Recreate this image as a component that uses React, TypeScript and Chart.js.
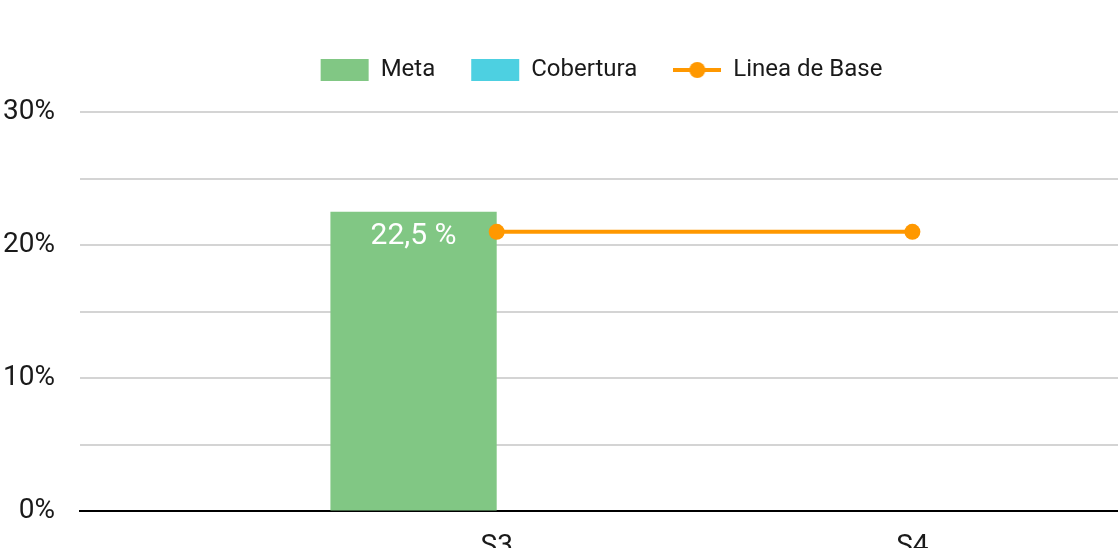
import React, { useEffect, useRef } from 'react';
import { Chart, registerables } from 'chart.js';

Chart.register(...registerables);

// ---- data ----
const categories = ['S3', 'S4'];
const metaValues: (number | null)[] = [22.5, null];
const coberturaValues: (number | null)[] = [null, null];
const lineaBaseValues: (number | null)[] = [21, 21];
const yLabelledTicks = [0, 10, 20, 30];

const seriesNames = ['Meta', 'Cobertura', 'Linea de Base'];
const seriesColors = ['#81C784', '#4DD0E1', '#FF9800'];

// visible window of the category axis (index units)
const X_START = -1.0024;
const X_RANGE = 2.675;

const CANVAS_W = 1200;
const CANVAS_H = 600;

function makeLineIcon(color: string): HTMLCanvasElement {
  const c = document.createElement('canvas');
  c.width = 48;
  c.height = 18;
  const ctx = c.getContext('2d')!;
  ctx.strokeStyle = color;
  ctx.lineWidth = 4;
  ctx.beginPath();
  ctx.moveTo(0, 9);
  ctx.lineTo(48, 9);
  ctx.stroke();
  ctx.fillStyle = color;
  ctx.beginPath();
  ctx.arc(24, 9, 8, 0, Math.PI * 2);
  ctx.fill();
  return c;
}

const barLabelPlugin = {
  id: 'barLabel',
  afterDatasetsDraw(chart: any) {
    const ctx = chart.ctx;
    const meta = chart.getDatasetMeta(0);
    const ds = chart.data.datasets[0];
    ctx.save();
    ctx.fillStyle = '#ffffff';
    ctx.font = '30px Roboto';
    ctx.textAlign = 'center';
    ctx.textBaseline = 'alphabetic';
    meta.data.forEach((bar: any, i: number) => {
      const v = ds.data[i];
      if (v === null || v === undefined) return;
      const txt = String(v).replace('.', ',') + ' %';
      ctx.fillText(txt, bar.x, bar.y + 32);
    });
    ctx.restore();
  },
};

const legendSpacingPlugin = {
  id: 'legendSpacing',
  beforeInit(chart: any) {
    const legend = chart.legend;
    if (!legend) return;
    const origFit = legend.fit;
    legend.fit = function () {
      origFit.call(this);
      this.height += 20;
    };
  },
};

export default function App() {
  const ref = useRef<HTMLCanvasElement | null>(null);

  useEffect(() => {
    if (!ref.current) return;
    Chart.defaults.font.family = 'Roboto';
    Chart.defaults.color = '#1a1a1a';
    const lineIcon = makeLineIcon(seriesColors[2]);

    const chart = new Chart(ref.current, {
      type: 'bar',
      data: {
        labels: categories,
        datasets: [
          {
            type: 'bar',
            label: seriesNames[0],
            data: metaValues,
            backgroundColor: seriesColors[0],
            borderWidth: 0,
            barPercentage: 1,
            categoryPercentage: 0.8,
            order: 1,
          },
          {
            type: 'bar',
            label: seriesNames[1],
            data: coberturaValues,
            backgroundColor: seriesColors[1],
            borderWidth: 0,
            barPercentage: 1,
            categoryPercentage: 0.8,
            order: 1,
          },
          {
            type: 'line',
            label: seriesNames[2],
            data: lineaBaseValues,
            borderColor: seriesColors[2],
            backgroundColor: seriesColors[2],
            borderWidth: 4,
            pointRadius: 8,
            pointBorderWidth: 0,
            pointBackgroundColor: seriesColors[2],
            tension: 0,
            order: 0,
          } as any,
        ],
      },
      options: {
        responsive: false,
        animation: false,
        layout: { padding: { left: 3, right: 0, top: 22, bottom: 17 } },
        plugins: {
          tooltip: { enabled: false },
          legend: {
            position: 'top',
            align: 'center',
            labels: {
              usePointStyle: true,
              pointStyleWidth: 48,
              boxWidth: 48,
              boxHeight: 22,
              padding: 36,
              color: '#1a1a1a',
              font: { size: 24, family: 'Roboto' },
              sort: (a: any, b: any) => a.datasetIndex - b.datasetIndex,
              generateLabels(ch: any) {
                const items = (Chart.defaults.plugins.legend.labels as any).generateLabels(ch);
                items.forEach((it: any) => {
                  const ds = ch.data.datasets[it.datasetIndex];
                  it.pointStyle = ds.type === 'line' ? lineIcon : 'rect';
                  it.lineWidth = 0;
                });
                return items;
              },
            },
          },
        },
        scales: {
          x: {
            grid: { display: false, drawTicks: false },
            border: { display: true, color: '#000000', width: 2 },
            ticks: { font: { size: 28 }, color: '#1a1a1a', padding: 19, autoSkip: false, maxRotation: 0 },
            afterBuildTicks(scale: any) {
              scale._startValue = X_START;
              scale._valueRange = X_RANGE;
            },
          },
          y: {
            min: 0,
            max: 30,
            grid: { color: '#d4d4d4', lineWidth: 2, drawTicks: false },
            border: { display: false },
            ticks: {
              stepSize: 5,
              padding: 25,
              font: { size: 28 },
              color: '#1a1a1a',
              callback: (v: any) => (yLabelledTicks.includes(Number(v)) ? v + '%' : ''),
            },
            afterFit(scale: any) {
              scale.width = 77;
            },
          },
        },
      },
      plugins: [barLabelPlugin, legendSpacingPlugin],
    } as any);

    return () => chart.destroy();
  }, []);

  return (
    <div
      style={{
        position: 'absolute',
        left: 0,
        top: 0,
        width: 1118,
        height: 548,
        overflow: 'hidden',
        background: '#ffffff',
      }}
    >
      <canvas ref={ref} width={CANVAS_W} height={CANVAS_H} style={{ display: 'block' }} />
    </div>
  );
}
